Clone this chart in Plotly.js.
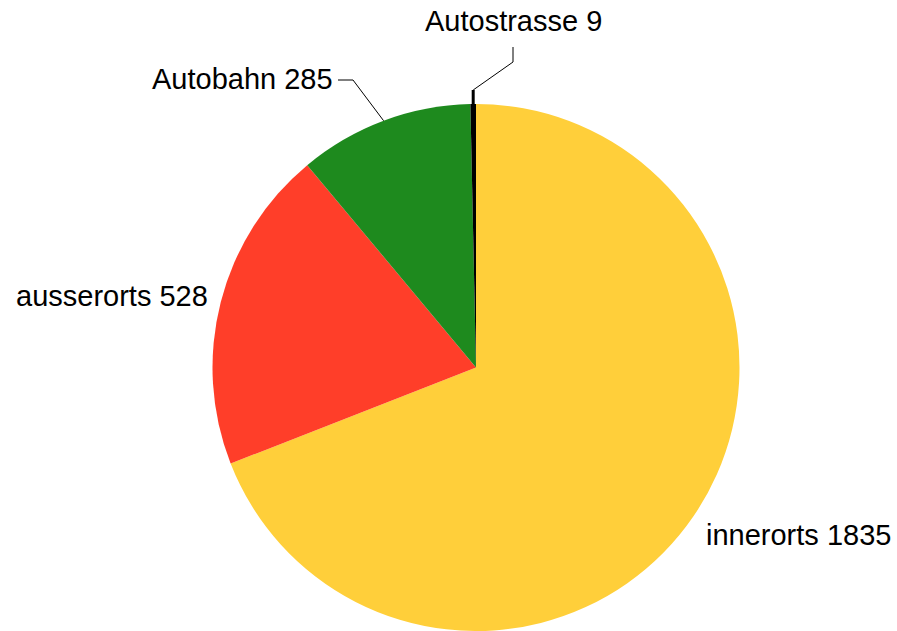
<!DOCTYPE html>
<html>
<head>
<meta charset="utf-8">
<script src="https://cdn.plot.ly/plotly-3.0.1.min.js"></script>
<style>html,body{margin:0;padding:0;background:#fff;}#chart{width:897px;height:631px;}</style>
</head>
<body>
<div id="chart"></div>
<script>
// Data
const categories = ["innerorts", "ausserorts", "Autobahn", "Autostrasse"];
const values = [1835, 528, 285, 9];
const colors = ["#FFCF3A", "#FF3E29", "#1E8A1E", "#000000"];

const W = 897, H = 631;
const CX = 476, CY = 367.5, R = 263.5;
const px = x => x / W;
const py = y => 1 - y / H;

const total = values.reduce((a, b) => a + b, 0);
// slice mid-point on rim (clockwise from 12 o'clock)
function rimPoint(i) {
  let cum = 0;
  for (let k = 0; k < i; k++) cum += values[k];
  const th = 2 * Math.PI * (cum + values[i] / 2) / total;
  return [CX + R * Math.sin(th), CY - R * Math.cos(th)];
}

const aBahn = rimPoint(2);
const aStr = rimPoint(3);

const font = {family: "Liberation Sans, Arial, sans-serif", size: 29, color: "#000"};

const annotations = [
  {text: categories[0] + " " + values[0], x: px(704), y: py(535), xanchor: "left", yanchor: "middle"},
  {text: categories[1] + " " + values[1], x: px(14), y: py(296), xanchor: "left", yanchor: "middle"},
  {text: categories[2] + " " + values[2], x: px(335), y: py(79), xanchor: "right", yanchor: "middle"},
  {text: categories[3] + " " + values[3], x: px(513), y: py(21), xanchor: "center", yanchor: "middle"}
].map(a => Object.assign({xref: "paper", yref: "paper", showarrow: false, font: font}, a));

const P = (x, y) => px(x) + "," + py(y);
const shapes = [
  {type: "path", xref: "paper", yref: "paper",
   path: "M" + P(aBahn[0], aBahn[1]) + " L" + P(353, 80) + " L" + P(338, 80),
   line: {color: "#000", width: 1}},
  {type: "path", xref: "paper", yref: "paper",
   path: "M" + P(aStr[0], aStr[1]) + " L" + P(aStr[0], 90),
   line: {color: "#000", width: 3}},
  {type: "path", xref: "paper", yref: "paper",
   path: "M" + P(aStr[0], 90) + " L" + P(513, 62) + " L" + P(513, 47),
   line: {color: "#000", width: 1}}
];

const trace = {
  type: "pie",
  labels: categories,
  values: values,
  marker: {colors: colors, line: {width: 0}},
  sort: false,
  direction: "clockwise",
  rotation: 0,
  textinfo: "none",
  hoverinfo: "label+value",
  showlegend: false,
  domain: {x: [(CX - R) / W, (CX + R) / W], y: [0, 2 * R / H]}
};

Plotly.newPlot("chart", [trace], {
  width: W, height: H,
  margin: {l: 0, r: 0, t: 0, b: 0},
  paper_bgcolor: "#fff",
  plot_bgcolor: "#fff",
  showlegend: false,
  annotations: annotations,
  shapes: shapes
}, {displayModeBar: false, staticPlot: true});
</script>
</body>
</html>
